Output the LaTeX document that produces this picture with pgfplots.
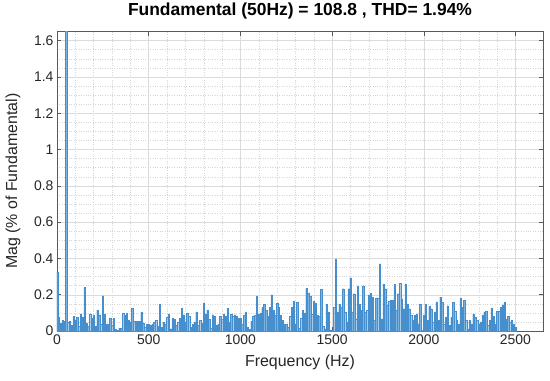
\documentclass[border=0pt]{standalone}
\usepackage{pgfplots}
\usepackage{pgfplotstable}
\pgfplotsset{compat=1.18}
\usepackage{fontspec}
\setmainfont{Liberation Sans}
\definecolor{barfill}{RGB}{122,178,224}
\definecolor{baredge}{RGB}{70,142,204}
\pgfplotstableread{
f m
0 0.325
10 0.078
20 0.045
30 0.06
40 0.055
50 100
60 0.05
70 0.055
80 0.03
90 0.08
100 0.06
110 0.075
120 0.025
130 0.095
140 0.078
150 0.24
160 0.045
170 0.025
180 0.095
190 0.07
200 0.085
210 0.025
220 0.115
230 0.09
240 0.04
250 0.195
260 0.095
270 0.04
280 0.04
290 0.07
300 0.03
310 0.07
320 0.008
330 0.004
340 0.018
350 0.018
360 0.1
370 0.087
380 0.1
390 0.06
400 0.05
410 0.125
420 0.055
430 0.055
440 0.055
450 0.055
460 0.105
470 0.045
480 0.02
490 0.04
500 0.04
510 0.03
520 0.04
530 0.05
540 0.06
550 0.025
560 0.15
570 0.022
580 0.05
590 0.04
600 0.075
610 0.095
620 0.013
630 0.07
640 0.065
650 0.03
660 0.05
670 0.07
680 0.125
690 0.09
700 0.05
710 0.1
720 0.08
730 0.022
740 0.04
750 0.05
760 0.105
770 0.03
780 0.06
790 0.045
800 0.155
810 0.095
820 0.115
830 0.065
840 0.018
850 0.09
860 0.08
870 0.03
880 0.04
890 0.08
900 0.065
910 0.095
920 0.08
930 0.125
940 0.05
950 0.095
960 0.08
970 0.09
980 0.08
990 0.07
1000 0.07
1010 0.04
1020 0.087
1030 0.105
1040 0.022
1050 0.008
1060 0.055
1070 0.08
1080 0.087
1090 0.19
1100 0.095
1110 0.1
1120 0.13
1130 0.15
1140 0.115
1150 0.08
1160 0.13
1170 0.2
1180 0.115
1190 0.087
1200 0.155
1210 0.13
1220 0.087
1230 0.06
1240 0.036
1250 0.04
1260 0.022
1270 0.08
1280 0.13
1290 0.165
1300 0.04
1310 0.16
1320 0.018
1330 0.07
1340 0.115
1350 0.1
1360 0.235
1370 0.21
1380 0.19
1390 0.095
1400 0.165
1410 0.155
1420 0.087
1430 0.08
1440 0.23
1450 0.026
1460 0.013
1470 0.147
1480 0.105
1490 0.007
1500 0.003
1510 0.132
1520 0.398
1530 0.105
1540 0.15
1550 0.132
1560 0.233
1570 0.105
1580 0.05
1590 0.233
1600 0.294
1610 0.105
1620 0.206
1630 0.068
1640 0.246
1650 0.15
1660 0.113
1670 0.25
1680 0.105
1690 0.113
1700 0.2
1710 0.209
1720 0.187
1730 0.062
1740 0.183
1750 0.183
1760 0.371
1770 0.068
1780 0.257
1790 0.233
1800 0.141
1810 0.165
1820 0.172
1830 0.172
1840 0.257
1850 0.113
1860 0.206
1870 0.264
1880 0.178
1890 0.123
1900 0.257
1910 0.15
1920 0.123
1930 0.086
1940 0.058
1950 0.086
1960 0.092
1970 0.04
1980 0.15
1990 0.003
2000 0.086
2010 0.15
2020 0.058
2030 0.136
2040 0.123
2050 0.05
2060 0.105
2070 0.16
2080 0.058
2090 0.187
2100 0.16
2110 0.04
2120 0.077
2130 0.14
2140 0.03
2150 0.077
2160 0.16
2170 0.11
2180 0.058
2190 0.04
2200 0.18
2210 0.132
2220 0.17
2230 0.058
2240 0.012
2250 0.058
2260 0.04
2270 0.095
2280 0.077
2290 0.058
2300 0.04
2310 0.05
2320 0.086
2330 0.105
2340 0.11
2350 0.03
2360 0.06
2370 0.128
2380 0.08
2390 0.04
2400 0.11
2410 0.11
2420 0.13
2430 0.145
2440 0.16
2450 0.065
2460 0.08
2470 0.05
2480 0.06
2490 0.04
2500 0.02
}\fft
\begin{document}
\begin{tikzpicture}
\begin{axis}[
  scale only axis,
  width=486bp, height=299.5bp,
  xmin=0, xmax=2650, ymin=0, ymax=1.65,
  restrict y to domain*=0:2,
  xtick={0,500,1000,1500,2000,2500},
  ytick={0,0.2,0.4,0.6,0.8,1,1.2,1.4,1.6},
  minor x tick num=4, minor y tick num=3,
  minor tick length=0pt,
  major tick length=4bp,
  grid=both,
  major grid style={gray!28, line width=0.4bp},
  minor grid style={gray!32, dotted, line width=0.4bp},
  axis line style={black!65, line width=0.5bp},
  tick style={black!65, line width=0.5bp},
  /pgf/number format/assume math mode=true,
  /pgf/number format/1000 sep={},
  tick label style={font=\fontsize{14}{16}\selectfont, text=black!85},
  title={\textbf{Fundamental (50Hz) = 108.8 , THD= 1.94\%}},
  title style={font=\fontsize{17.5}{19}\selectfont, at={(axis description cs:0.5,1.032)}, anchor=base},
  xlabel={Frequency (Hz)},
  xlabel style={font=\fontsize{16}{18}\selectfont, text=black!85, at={(axis description cs:0.5,-0.12)}, anchor=base},
  ylabel={Mag (\% of Fundamental)},
  ylabel style={font=\fontsize{16}{18}\selectfont, text=black!85, at={(axis description cs:-0.068,0.5)}, anchor=south},
]
\addplot[ybar, bar width=7.5, fill=barfill, draw=baredge, line width=0.2bp] table[x=f, y=m] {\fft};
\end{axis}
\path (current axis.south west) ++(-57bp,-49bp) rectangle ++(550bp,376bp);
\end{tikzpicture}
\end{document}
